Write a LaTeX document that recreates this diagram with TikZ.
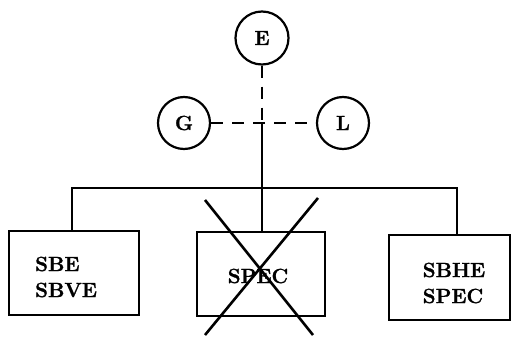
\documentclass[tikz,border=0pt]{standalone}
\usepackage{fontspec}
\setmainfont{Latin Modern Roman}[BoldFeatures={FakeBold=1.2}]
\usetikzlibrary{positioning}
\newcommand{\lblfont}{\fontsize{20.5pt}{26pt}\selectfont\bfseries}

\begin{document}
\begin{tikzpicture}[x=1pt,y=-1pt]
        \tikzstyle{ring}=[circle,draw=black,line width=2.2pt,minimum size=53pt,inner sep=0pt,font=\lblfont]
        \tikzstyle{box}=[rectangle,draw=black,line width=2.2pt,minimum height=84pt,inner sep=0pt]
        \tikzstyle{lbl}=[align=left,inner sep=0pt,font=\lblfont]
        \tikzstyle{dashline}=[line width=2.4pt,dash pattern=on 12pt off 9pt]
        \useasboundingbox (0,0) rectangle (511,345);
        \node [ring] (E) at (262,38) {E};
        \node [ring,minimum size=52pt] (G) at (184,123) {G};
        \node [ring,minimum size=52pt] (L) at (343,123) {L};
        \node [box,minimum width=130pt] (sbe) at (74,273) {};
        \node [box,minimum width=128pt] (spec) at (261,274) {};
        \node [box,minimum width=121pt,minimum height=85pt] (sbhe) at (449.5,277.5) {};
        \node [lbl,anchor=west] (sbetxt) at (35,277) {SBE\\SBVE};
        \node [lbl] (spectxt) at (258,276) {SPEC};
        \node [lbl] (sbhetxt) at (454,283) {SBHE\\SPEC};
        \coordinate (J) at (262,123);
        \coordinate (T) at (262,188);
        \coordinate (xa) at (205,200);
        \coordinate (xb) at (313,335);
        \coordinate (xc) at (318,198);
        \coordinate (xd) at (205,335);
        \draw [dashline] (E) -- (J);
        \draw [dashline] (G) -- (J) -- (L);
        \draw [black,line width=2pt] (J) -- (T);
        \draw [black,line width=2pt] ([xshift=-2pt]sbe.north) |- (T) -| ([xshift=7.5pt]sbhe.north);
        \draw [black,line width=2pt] (T) -- (T |- spec.north);
        \draw [black,line width=2.6pt] (xa) -- (xb);
        \draw [black,line width=2.6pt] (xc) -- (xd);
\end{tikzpicture}
\end{document}
